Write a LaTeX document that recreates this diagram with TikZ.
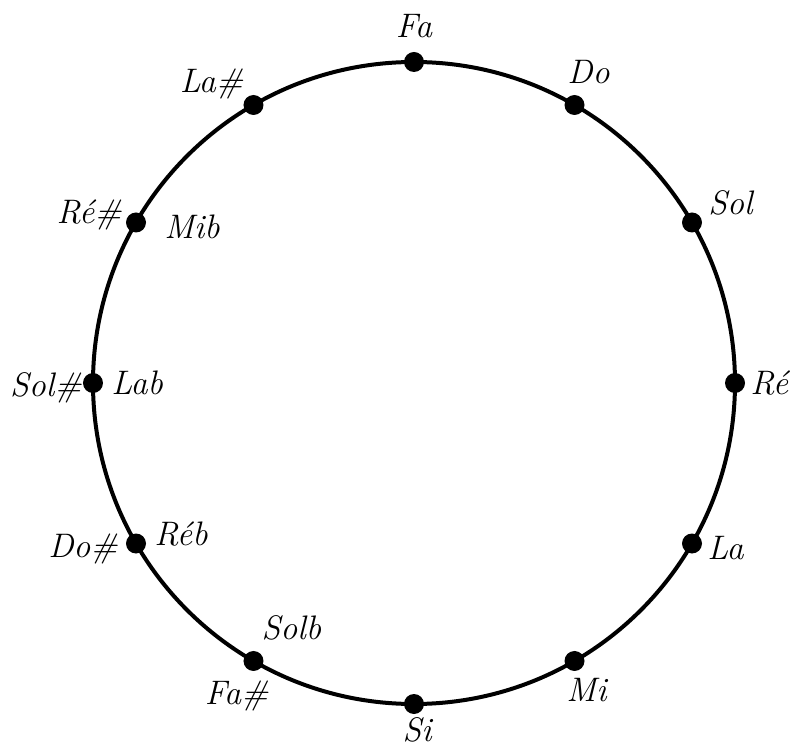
\documentclass[tikz,border=0pt]{standalone}
\usepackage{fontspec}
\usepackage{tikz}
\usetikzlibrary{positioning}
\definecolor{ink}{HTML}{000000}

\begin{document}
\begin{tikzpicture}[x=1pt,y=1pt,
  notedot/.style={circle,fill=ink,inner sep=0pt,minimum size=20pt},
  notename/.style={inner sep=0pt,text=ink,font=\fontsize{34}{40}\selectfont\itshape}]
  \useasboundingbox (-414,-366) rectangle (383,383);
  \draw[ink,line width=4pt] (0,0) circle (321);
  % the twelve notes, a fifth apart
  \foreach \nm/\ang in {fa/90,do/60,sol/30,re/0,la/-30,mi/-60,si/-90,
                        fas/-120,dos/-150,sols/180,res/150,las/120}
    \node[notedot] (\nm) at (\ang:321) {};
  \node[notename, above=14pt of fa] {Fa};
  \node[notename, above=11pt of do, xshift=14pt] {Do};
  \node[notename, right=6pt of sol, yshift=20pt] {Sol};
  \node[notename, right=5pt of re] {Ré};
  \node[notename, right=5pt of la, yshift=-5pt] {La};
  \node[notename, below=7pt of mi, xshift=12pt] {Mi};
  \node[notename, below=3pt of si, xshift=3pt] {Si};
  % enharmonic pairs
  \node[notename, below=10pt of fas, xshift=-17pt] {Fa\#};
  \node[notename, above=10pt of fas, xshift=38pt] {Solb};
  \node[notename, left=8pt of dos, yshift=-5pt] {Do\#};
  \node[notename, right=8pt of dos, yshift=9pt] {Réb};
  \node[notename, left=1pt of sols, yshift=-5pt] {Sol\#};
  \node[notename, right=8pt of sols] {Lab};
  \node[notename, left=4pt of res, yshift=8pt] {Ré\#};
  \node[notename, right=18pt of res, yshift=-4pt] {Mib};
  \node[notename, left=0pt of las, yshift=21pt] {La\#};
\end{tikzpicture}
\end{document}
